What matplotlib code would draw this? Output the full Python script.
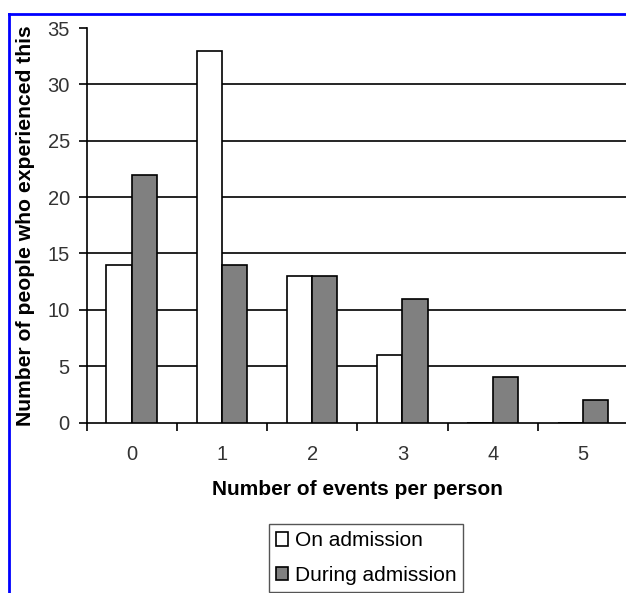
import matplotlib
matplotlib.use("Agg")
import matplotlib.pyplot as plt
from matplotlib.lines import Line2D
import numpy as np

plt.rcParams["font.family"] = ["Liberation Sans", "DejaVu Sans"]

categories = ["0", "1", "2", "3", "4", "5"]
on_admission = [14, 33, 13, 6, 0, 0]
during_admission = [22, 14, 13, 11, 4, 2]
y_ticks = [0, 5, 10, 15, 20, 25, 30, 35]

fig = plt.figure(figsize=(6.26, 5.93), dpi=100)
ax = fig.add_axes([86.5 / 626, 1 - 422.5 / 593, (628 - 86.5) / 626, (422.5 - 28) / 593])

x = np.arange(len(categories))
w = 0.28
ax.bar(x - w / 2, on_admission, w, color="white", edgecolor="black",
       linewidth=1.2, label="On admission", zorder=3)
ax.bar(x + w / 2, during_admission, w, color="#808080", edgecolor="black",
       linewidth=1.2, label="During admission", zorder=3)

ax.set_xlim(-0.5, len(categories) - 0.5)
ax.set_ylim(0, 35)
ax.set_yticks(y_ticks)
ax.set_xticks(x)
ax.set_xticklabels(categories)
ax.set_xticks(np.arange(-0.5, len(categories)), minor=True)
ax.tick_params(axis="x", which="major", length=0, pad=16, labelsize=14.5, colors="#333333")
ax.tick_params(axis="x", which="minor", length=6, width=1.2, direction="out")
ax.tick_params(axis="y", length=6, width=1.2, direction="out", labelsize=14.5, pad=6,
               labelcolor="#333333")

ax.yaxis.grid(True, color="black", linewidth=1.2, zorder=0)
ax.set_axisbelow(True)
ax.yaxis.get_gridlines()[-1].set_visible(False)
ax.yaxis.get_gridlines()[0].set_visible(False)

for s in ["top", "right"]:
    ax.spines[s].set_visible(False)
for s in ["left", "bottom"]:
    ax.spines[s].set_linewidth(1.2)

ax.set_xlabel("Number of events per person", fontsize=15, fontweight="bold", labelpad=12)
ax.set_ylabel("Number of people who experienced this", fontsize=15.2, fontweight="bold",
              labelpad=9)

leg = fig.legend(loc="upper center", bbox_to_anchor=(366 / 626, 1 - 524 / 593),
                 fontsize=15, fancybox=False, edgecolor="#555555", framealpha=1,
                 handlelength=0.6, handleheight=0.6, handletextpad=0.3,
                 borderpad=0.35, borderaxespad=0, labelspacing=0.75)
leg.get_frame().set_linewidth(1.0)

# blue frame lines on top and left
fig.add_artist(Line2D([9 / 626, 1], [1 - 13.5 / 593, 1 - 13.5 / 593],
                      transform=fig.transFigure, color="#0000ff", linewidth=2))
fig.add_artist(Line2D([9 / 626, 9 / 626], [0, 1 - 13.5 / 593],
                      transform=fig.transFigure, color="#0000ff", linewidth=2))

fig.savefig("out.png", dpi=100)
